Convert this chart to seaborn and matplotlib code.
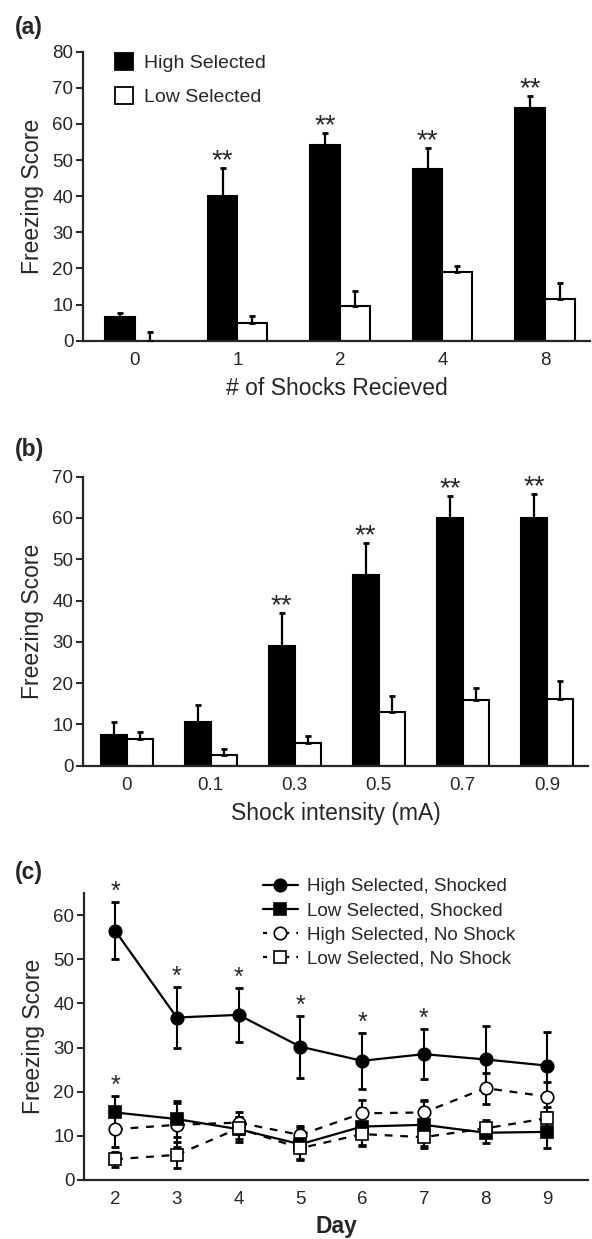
import numpy as np
import pandas as pd
import matplotlib
matplotlib.use("Agg")
import matplotlib.pyplot as plt
import seaborn as sns
from matplotlib.lines import Line2D
from matplotlib.patches import Patch

sns.set_style("ticks")
plt.rcParams["font.family"] = ["Liberation Sans", "DejaVu Sans"]

# ---------------- (a) number of shocks ----------------
shock_counts = ["0", "1", "2", "4", "8"]
a_high = [6.6, 40.0, 54.2, 47.5, 64.3]
a_high_err = [1.2, 7.9, 3.4, 5.9, 3.5]
a_low = [0.0, 5.0, 9.6, 19.1, 11.6]
a_low_err = [2.5, 1.8, 4.1, 1.7, 4.5]
a_sig = ["", "**", "**", "**", "**"]

# ---------------- (b) shock intensity ----------------
intensities = ["0", "0.1", "0.3", "0.5", "0.7", "0.9"]
b_high = [7.5, 10.6, 29.0, 46.3, 59.9, 59.9]
b_high_err = [3.2, 4.0, 8.1, 7.7, 5.5, 5.8]
b_low = [6.5, 2.7, 5.6, 13.1, 15.8, 16.2]
b_low_err = [1.6, 1.3, 1.5, 3.8, 3.1, 4.2]
b_sig = ["", "", "**", "**", "**", "**"]

# ---------------- (c) extinction days ----------------
days = [2, 3, 4, 5, 6, 7, 8, 9]
c_high_shock = [56.5, 36.8, 37.4, 30.2, 27.0, 28.5, 27.3, 25.9]
c_high_shock_err = [6.4, 7.0, 6.1, 7.0, 6.4, 5.7, 7.6, 7.7]
c_low_shock = [15.3, 13.8, 11.5, 8.1, 12.1, 12.5, 10.7, 10.9]
c_low_shock_err = [3.8, 4.1, 2.8, 3.6, 4.3, 5.3, 2.4, 3.6]
c_high_none = [11.5, 12.5, 13.0, 10.2, 15.1, 15.3, 20.8, 18.9]
c_high_none_err = [4.0, 5.0, 2.5, 2.0, 3.0, 2.8, 3.5, 3.4]
c_low_none = [4.7, 5.7, 11.7, 7.2, 10.4, 9.7, 11.7, 14.0]
c_low_none_err = [1.7, 2.9, 2.5, 2.5, 2.5, 2.0, 2.0, 2.5]
c_sig_high = ["*", "*", "*", "*", "*", "*", "", ""]
c_sig_low = ["*", "", "", "", "", "", "", ""]

groups = ["High Selected", "Low Selected"]
bar_colors = {"High Selected": "black", "Low Selected": "white"}

W, H = 592, 1239
fig = plt.figure(figsize=(W / 100, H / 100), dpi=100)


def rect(l, r, t, b):
    return [l / W, 1 - b / H, (r - l) / W, (b - t) / H]


TICK_FS = 13.5
LABEL_FS = 16.5


def style_axes(ax, ymax, step):
    sns.despine(ax=ax)
    for side in ("left", "bottom"):
        ax.spines[side].set_linewidth(1.6)
    ax.set_ylim(0, ymax)
    ax.set_yticks(np.arange(0, ymax + 1, step))
    ax.tick_params(axis="y", length=5, width=1.4, pad=2, labelsize=TICK_FS)
    ax.tick_params(axis="x", length=0, pad=8, labelsize=TICK_FS)
    ax.set_ylabel("Freezing Score", fontsize=LABEL_FS, labelpad=6)


def bar_panel(ax, cats, high, high_err, low, low_err, sig, width, xlim, ymax, xlabel):
    df = pd.DataFrame({
        "cat": cats * 2,
        "group": [groups[0]] * len(cats) + [groups[1]] * len(cats),
        "score": high + low,
    })
    sns.barplot(data=df, x="cat", y="score", hue="group", order=cats,
                hue_order=groups, palette=bar_colors, saturation=1,
                edgecolor="black", linewidth=1.5, width=width,
                errorbar=None, legend=False, ax=ax)
    tops = []
    for cont, err in zip(ax.containers, [high_err, low_err]):
        xs = [p.get_x() + p.get_width() / 2 for p in cont]
        hs = [p.get_height() for p in cont]
        ax.errorbar(xs, hs, yerr=[np.zeros(len(err)), err], fmt="none",
                    ecolor="black", elinewidth=1.6, capsize=2.4,
                    capthick=2, zorder=3)
        tops.append((xs, np.array(hs) + np.array(err)))
    xs, top = tops[0]
    for x, t, s in zip(xs, top, sig):
        if s:
            ax.annotate(s, xy=(x, t), xytext=(0, -4.5), textcoords="offset points",
                        ha="center", va="bottom", fontsize=20)
    style_axes(ax, ymax, 10)
    ax.set_xlim(*xlim)
    ax.set_xlabel(xlabel, fontsize=LABEL_FS, labelpad=6)


# ---- panel (a)
ax_a = fig.add_axes(rect(83, 590, 51.7, 340.7))
bar_panel(ax_a, shock_counts, a_high, a_high_err, a_low, a_low_err, a_sig,
          0.58, (-0.507, 4.44), 80, "# of Shocks Recieved")
leg_handles = [Patch(facecolor=bar_colors[g], edgecolor="black", linewidth=1.3)
               for g in groups]
ax_a.legend(leg_handles, groups, loc="upper left", bbox_to_anchor=(0.063, 0.995),
            frameon=False, fontsize=14, handlelength=0.93, handleheight=0.93,
            handletextpad=0.55, labelspacing=0.78, borderpad=0, borderaxespad=0)

# ---- panel (b)
ax_b = fig.add_axes(rect(83, 588, 476.7, 765.7))
bar_panel(ax_b, intensities, b_high, b_high_err, b_low, b_low_err, b_sig,
          0.62, (-0.52, 5.49), 70, "Shock intensity (mA)")

# ---- panel (c)
ax_c = fig.add_axes(rect(84, 588, 893, 1180))
series = [
    ("High Selected, Shocked", c_high_shock, c_high_shock_err, "o", "black", ""),
    ("High Selected, No Shock", c_high_none, c_high_none_err, "o", "white", (3.5, 3.5)),
    ("Low Selected, Shocked", c_low_shock, c_low_shock_err, "s", "black", ""),
    ("Low Selected, No Shock", c_low_none, c_low_none_err, "s", "white", (3.5, 3.5)),
]
MS = {"o": 9, "s": 8.5}
for i, (name, vals, errs, mk, face, dash) in enumerate(series):
    sdf = pd.DataFrame({"day": days, "score": vals})
    ax_c.errorbar(days, vals, yerr=errs, fmt="none", ecolor="black",
                  elinewidth=1.5, capsize=2.6, capthick=2, zorder=2 + i * 0.1)
    sns.lineplot(data=sdf, x="day", y="score", ax=ax_c, color="black",
                 linewidth=1.6, marker=mk, markersize=MS[mk],
                 markerfacecolor=face, markeredgecolor="black",
                 markeredgewidth=1.2, zorder=3 + i * 0.1)
    line = ax_c.lines[-1]
    if dash:
        line.set_dashes(dash)

for vals, errs, sig in ((c_high_shock, c_high_shock_err, c_sig_high),
                        (c_low_shock, c_low_shock_err, c_sig_low)):
    for x, v, e, s in zip(days, vals, errs, sig):
        if s:
            ax_c.annotate(s, xy=(x, v + e), xytext=(0, -1.5), textcoords="offset points",
                          ha="center", va="bottom", fontsize=18)

style_axes(ax_c, 65, 10)
ax_c.set_yticks(np.arange(0, 61, 10))
ax_c.set_xlim(1.497, 9.66)
ax_c.set_xticks(days)
ax_c.set_xlabel("Day", fontsize=LABEL_FS, fontweight="bold", labelpad=5)

legend_order = [0, 2, 1, 3]
c_handles = []
for idx in legend_order:
    name, vals, errs, mk, face, dash = series[idx]
    h = Line2D([], [], color="black", linewidth=1.6, marker=mk,
               markersize=MS[mk], markerfacecolor=face,
               markeredgecolor="black", markeredgewidth=1.2)
    if dash:
        h.set_dashes((1.8, 3.2))
    c_handles.append(h)
ax_c.legend(c_handles, [series[i][0] for i in legend_order], loc="upper left",
            bbox_to_anchor=(0.355, 1.052), frameon=False, fontsize=13.5,
            handlelength=1.87, handletextpad=0.48, labelspacing=0.38,
            borderpad=0, borderaxespad=0)

# panel letters
for label, y in (("(a)", 16), ("(b)", 438), ("(c)", 861)):
    fig.text(15 / W, 1 - y / H, label, fontsize=16.5, fontweight="bold",
             ha="left", va="top")

fig.savefig("out.png", dpi=100)
